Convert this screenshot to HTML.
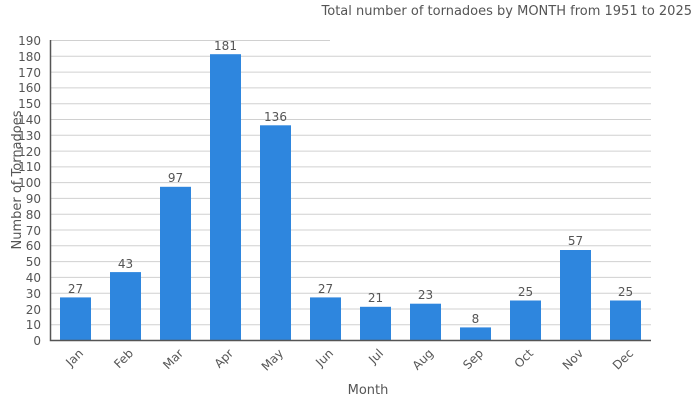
<!DOCTYPE html>
<html><head><style>body{margin:0;background:#fff}svg{display:block;font-family:"DejaVu Sans","Liberation Sans",sans-serif}</style></head><body>
<svg width="700" height="400" viewBox="0 0 700 400">
<g stroke="#d0d0d0" stroke-width="1">
<line x1="51" x2="330" y1="40.5" y2="40.5"/>
<line x1="51" x2="651" y1="56.3" y2="56.3"/><line x1="51" x2="651" y1="72.1" y2="72.1"/><line x1="51" x2="651" y1="87.9" y2="87.9"/><line x1="51" x2="651" y1="103.7" y2="103.7"/><line x1="51" x2="651" y1="119.5" y2="119.5"/><line x1="51" x2="651" y1="135.3" y2="135.3"/><line x1="51" x2="651" y1="151.1" y2="151.1"/><line x1="51" x2="651" y1="166.9" y2="166.9"/><line x1="51" x2="651" y1="182.6" y2="182.6"/><line x1="51" x2="651" y1="198.4" y2="198.4"/><line x1="51" x2="651" y1="214.2" y2="214.2"/><line x1="51" x2="651" y1="230" y2="230"/><line x1="51" x2="651" y1="245.8" y2="245.8"/><line x1="51" x2="651" y1="261.6" y2="261.6"/><line x1="51" x2="651" y1="277.4" y2="277.4"/><line x1="51" x2="651" y1="293.2" y2="293.2"/><line x1="51" x2="651" y1="309" y2="309"/><line x1="51" x2="651" y1="324.7" y2="324.7"/>
</g>
<g fill="#2e86de">
<rect x="60" y="297.4" width="31" height="42.6"/><rect x="110" y="272.1" width="31" height="67.9"/><rect x="160" y="186.8" width="31" height="153.2"/><rect x="210" y="54.2" width="31" height="285.8"/><rect x="260" y="125.3" width="31" height="214.7"/><rect x="310" y="297.4" width="31" height="42.6"/><rect x="360" y="306.8" width="31" height="33.2"/><rect x="410" y="303.7" width="31" height="36.3"/><rect x="460" y="327.4" width="31" height="12.6"/><rect x="510" y="300.5" width="31" height="39.5"/><rect x="560" y="250" width="31" height="90"/><rect x="610" y="300.5" width="31" height="39.5"/>
</g>
<path d="M50.5 40V340.5H651" fill="none" stroke="#555" stroke-width="1.5"/>
<g fill="#555" font-size="12" text-anchor="middle">
<text x="75.5" y="293">27</text><text x="125.5" y="268">43</text><text x="175.5" y="182">97</text><text x="225.5" y="50">181</text><text x="275.5" y="121">136</text><text x="325.5" y="293">27</text><text x="375.5" y="302">21</text><text x="425.5" y="299">23</text><text x="475.5" y="323">8</text><text x="525.5" y="296">25</text><text x="575.5" y="245">57</text><text x="625.5" y="296">25</text>
</g>
<g fill="#555" font-size="12" text-anchor="end">
<text x="41" y="45">190</text><text x="41" y="61">180</text><text x="41" y="77">170</text><text x="41" y="92">160</text><text x="41" y="108">150</text><text x="41" y="124">140</text><text x="41" y="140">130</text><text x="41" y="156">120</text><text x="41" y="171">110</text><text x="41" y="187">100</text><text x="41" y="203">90</text><text x="41" y="219">80</text><text x="41" y="235">70</text><text x="41" y="250">60</text><text x="41" y="266">50</text><text x="41" y="282">40</text><text x="41" y="298">30</text><text x="41" y="314">20</text><text x="41" y="329">10</text><text x="41" y="345">0</text>
</g>
<g fill="#555" font-size="12" text-anchor="end">
<text transform="translate(84,354) rotate(-45)">Jan</text><text transform="translate(134,354) rotate(-45)">Feb</text><text transform="translate(184,354) rotate(-45)">Mar</text><text transform="translate(234,354) rotate(-45)">Apr</text><text transform="translate(284,354) rotate(-45)">May</text><text transform="translate(334,354) rotate(-45)">Jun</text><text transform="translate(384,354) rotate(-45)">Jul</text><text transform="translate(434,354) rotate(-45)">Aug</text><text transform="translate(484,354) rotate(-45)">Sep</text><text transform="translate(534,354) rotate(-45)">Oct</text><text transform="translate(584,354) rotate(-45)">Nov</text><text transform="translate(634,354) rotate(-45)">Dec</text>
</g>
<text x="368" y="394" fill="#555" font-size="13" text-anchor="middle">Month</text>
<text transform="translate(21,180) rotate(-90)" fill="#555" font-size="13" text-anchor="middle">Number of Tornadoes</text>
<text x="692" y="15" fill="#555" font-size="13" text-anchor="end">Total number of tornadoes by MONTH from 1951 to 2025</text>
</svg>
</body></html>
